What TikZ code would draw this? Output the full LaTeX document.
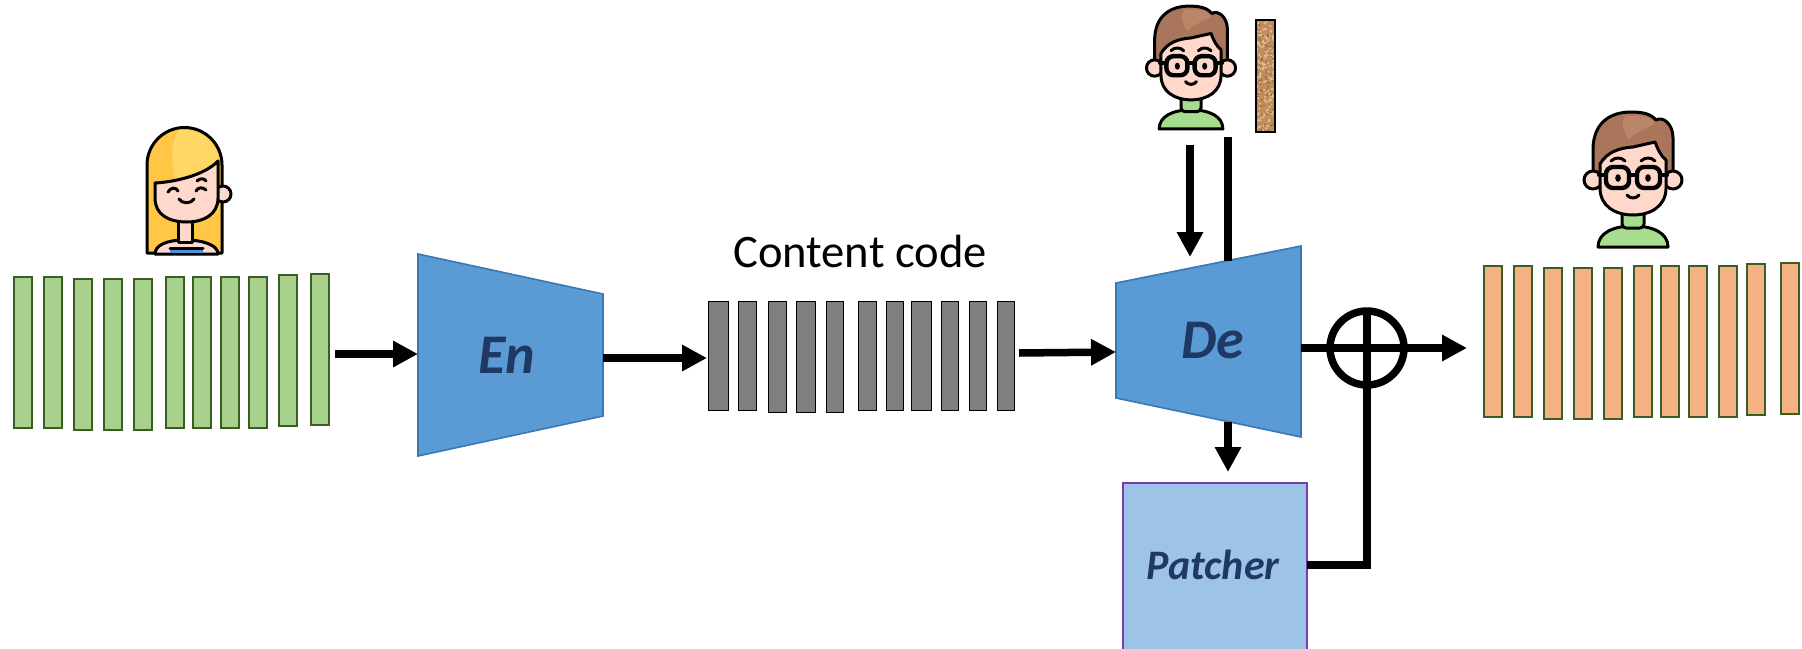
\documentclass[tikz,border=0pt]{standalone}
\usepackage{fontspec}
\setmainfont{Carlito}
\usetikzlibrary{arrows.meta}

\definecolor{netblue}{HTML}{5B9BD5}
\definecolor{netedge}{HTML}{3A78B5}
\definecolor{labelnavy}{HTML}{203864}
\definecolor{patchfill}{HTML}{9DC3E6}
\definecolor{patchedge}{HTML}{7A3DB0}
\definecolor{infill}{HTML}{A9D18E}
\definecolor{baredge}{HTML}{3B5E25}
\definecolor{codefill}{HTML}{7F7F7F}
\definecolor{outfill}{HTML}{F4B183}
\definecolor{skin}{HTML}{FDD8CB}
\definecolor{hairbrown}{HTML}{A9765B}
\definecolor{hairbrownlight}{HTML}{B9866A}
\definecolor{hairyellow}{HTML}{FFC745}
\definecolor{hairyellowlight}{HTML}{FFD766}
\definecolor{shirtgreen}{HTML}{A6DD8E}
\definecolor{topblue}{HTML}{4E8FD6}
\definecolor{bark}{HTML}{C08C5A}
\definecolor{barklight}{HTML}{E3C49A}
\definecolor{barkdark}{HTML}{8A5A32}

\begin{document}
\begin{tikzpicture}[x=0.5pt,y=-0.5pt,
  flow/.style={line width=3.75pt},
  tip/.style={-{Triangle[length=12.5pt,width=12.5pt]}},
  netblock/.style={fill=netblue,draw=netedge,line width=0.8pt},
  netlabel/.style={text=labelnavy,font=\fontsize{28}{30}\selectfont\bfseries\itshape,anchor=base,inner sep=0pt},
  inbar/.style={fill=infill,draw=baredge,line width=1.1pt},
  codebar/.style={fill=codefill,draw=black,line width=0.9pt},
  outbar/.style={fill=outfill,draw=baredge,line width=1.3pt},
  av/.style={draw=black,line width=1.5pt,line join=round,line cap=round},
  frame/.style={draw=black,line width=2.2pt,line join=round,rounded corners=3.5},
  boy/.pic={
    % turtleneck body
    \draw[av,fill=shirtgreen] (-35,67) .. controls (-35,53) and (-20,46) .. (0,46)
        .. controls (20,46) and (35,53) .. (35,67) -- cycle;
    \draw[av,fill=shirtgreen,rounded corners=2] (-11,30) rectangle (11,48);
    % hair
    \draw[av,fill=hairbrown] (-40,6) -- (-40,-30) .. controls (-40,-58) and (-22,-68) .. (-2,-68)
        .. controls (10,-68) and (18,-66) .. (23,-60)
        .. controls (30,-64) and (40,-56) .. (40,-42) -- (40,6) -- cycle;
    \fill[hairbrownlight] (-8,-64) .. controls (10,-66) and (20,-62) .. (22,-56)
        .. controls (10,-50) and (0,-46) .. (-4,-40) .. controls (-10,-50) and (-12,-58) .. cycle;
    % ears
    \draw[av,fill=skin] (-40,0) circle[radius=9];
    \draw[av,fill=skin] (40,0) circle[radius=9];
    % face
    \draw[av,fill=skin] (-33,-16) .. controls (-26,-28) and (-14,-32) .. (0,-33) -- (22,-38)
        .. controls (25,-30) and (28,-24) .. (33,-20) -- (33,8)
        .. controls (33,26) and (18,35) .. (0,35) .. controls (-18,35) and (-33,26) .. (-33,8) -- cycle;
    % glasses
    \draw[frame] (-27,-13) rectangle (-4,8);
    \draw[frame] (4,-13) rectangle (27,8);
    \draw[av,line width=2pt] (-4,-5) -- (4,-5);
    \draw[av,line width=2pt] (-34,-5) -- (-27,-5) (27,-5) -- (34,-5);
    \fill (-15,-2) ellipse[x radius=2.8,y radius=3.8];
    \fill (15,-2) ellipse[x radius=2.8,y radius=3.8];
    % brows and smile
    \draw[av] (-22,-19) .. controls (-18,-23) and (-12,-23) .. (-8,-19);
    \draw[av] (8,-19) .. controls (12,-23) and (18,-23) .. (22,-19);
    \draw[av] (-6,15) .. controls (-3,19) and (3,19) .. (6,15);
  },
  girl/.pic={
    % hair
    \draw[av,fill=hairyellow] (-38,63) -- (-38,-25) arc[start angle=180,end angle=360,radius=37.5]
        -- (37,63) -- cycle;
    \fill[hairyellowlight] (-6,-60) .. controls (15,-62) and (33,-48) .. (34,-28)
        -- (30,-26) .. controls (20,-20) and (5,-14) .. (-10,-12) .. controls (-14,-30) and (-14,-50) .. cycle;
    % shoulders and top
    \draw[av,fill=skin] (-30,64) .. controls (-30,55) and (-18,50) .. (0,50)
        .. controls (18,50) and (33,55) .. (33,64) -- cycle;
    \fill[topblue] (-15,58) rectangle (18,63);
    \draw[av] (-15,58) -- (18,58);
    \draw[av,fill=skin] (-7,26) rectangle (7,52);
    % ear
    \draw[av,fill=skin] (38,4) circle[radius=8];
    % face
    \draw[av,fill=skin] (-30,-7) .. controls (-10,-8) and (20,-15) .. (33,-29) -- (33,8)
        .. controls (33,25) and (18,32) .. (2,32) .. controls (-16,32) and (-30,25) .. (-30,8) -- cycle;
    % eyes, brow, smile
    \draw[av] (-17,2) .. controls (-14,-3) and (-9,-3) .. (-7,1);
    \draw[av] (11,1) .. controls (13,-3) and (18,-3) .. (21,0);
    \draw[av] (12,-9) .. controls (15,-12) and (19,-12) .. (21,-9);
    \draw[av] (-6,9) .. controls (-3,14) and (6,14) .. (9,9);
  }
]
\useasboundingbox (0,0) rectangle (1802,648);
\clip (0,0) rectangle (1802,648);

% ---------- input sequence ----------
\pic at (185,190) {girl};
\foreach \x/\t in {13/276,43/276,73/278,103/278,133/278,165/276,192/276,220/276,248/276,278/274,310/273}
  \draw[inbar] (\x+1,\t+1) rectangle (\x+19,\t+152);

% ---------- encoder ----------
\draw[netblock] (418,254) -- (603,294) -- (603,416) -- (418,456) -- cycle;
\node[netlabel] (enlabel) at (507,373) {En};
\coordinate (inEnd) at (335,354);
\coordinate (enIn) at (418,354);
\coordinate (enOut) at (603,358);

% ---------- content code ----------
\node[anchor=base,inner sep=0pt,font=\fontsize{23.3}{26}\selectfont] (codelabel) at (860,267) {Content code};
\foreach \a/\b/\c in {708/729/411,738/757/411,768/787/413,796/816/413,826/844/413,858/877/411,886/904/411,911/932/411,941/959/411,969/987/411,997/1015/411}
  \draw[codebar] (\a+0.5,301.5) rectangle (\b-0.5,\c-0.5);
\coordinate (codeIn) at (707,358);
\coordinate (codeOut) at (1019,353);

% ---------- decoder ----------
\draw[netblock] (1116,283) -- (1301,246) -- (1301,437) -- (1116,398) -- cycle;
\node[netlabel] (delabel) at (1213,358) {De};
\coordinate (deIn) at (1116,352);
\coordinate (deOut) at (1301,348);
\coordinate (deTop) at (1228,260.6);
\coordinate (deBottom) at (1228,421.6);
\coordinate (deTopIn) at (1190,257);

% ---------- style inputs ----------
\pic[scale=0.91] at (1191,68) {boy};
\coordinate (boyOut) at (1190,145);
\draw[line width=0.8pt,fill=bark] (1256,20) rectangle (1275,132);
\begin{scope}
  \clip (1256.5,20.5) rectangle (1274.5,131.5);
  \pgfmathsetseed{42}
  \foreach \i in {1,...,170}{
    \pgfmathsetmacro\rx{1256+rnd*19}
    \pgfmathsetmacro\ry{20+rnd*112}
    \fill[barklight] (\rx,\ry) circle[radius=1.1];
  }
  \foreach \i in {1,...,80}{
    \pgfmathsetmacro\rx{1256+rnd*19}
    \pgfmathsetmacro\ry{20+rnd*112}
    \fill[barkdark] (\rx,\ry) circle[radius=0.8];
  }
\end{scope}
\draw[line width=0.8pt] (1256,20) rectangle (1275,132);
\coordinate (texOut) at (1228,137);

% ---------- patcher ----------
\node[draw=patchedge,fill=patchfill,line width=0.9pt,minimum width=92pt,minimum height=88.5pt,inner sep=0pt] (patcher) at (1215,571.5) {};
\node[netlabel,font=\fontsize{21}{24}\selectfont\bfseries\itshape] (patchlabel) at (1213,579) {Patcher};
\coordinate (patchIn) at (1228,472);
\coordinate (patchOut) at (1307,565);

% ---------- merge ----------
\coordinate (sum) at (1367,348);
\coordinate (sumTop) at (1367,311);
\coordinate (outTip) at (1467,348);
\draw[flow] (sum) circle[radius=37];

% ---------- output sequence ----------
\pic at (1633,180) {boy};
\foreach \x/\t in {1483/265,1513/265,1543/267,1573/267,1603/267,1633/265,1660/265,1688/265,1718/265,1746/263,1780/262}
  \draw[outbar] (\x+1,\t+1) rectangle (\x+19,\t+152);

% ---------- connectors ----------
\draw[flow,tip] (inEnd) -- (enIn);
\draw[flow,tip] (enOut) -- (codeIn);
\draw[flow,tip] (codeOut) -- (deIn);
\draw[flow,tip] (deOut) -- (outTip);
\draw[flow,tip] (boyOut) -- (deTopIn);
\draw[flow] (texOut) -- (deTop);
\draw[flow,tip] (deBottom) -- (patchIn);
\draw[flow] (patchOut) -| (sumTop);
\end{tikzpicture}
\end{document}
